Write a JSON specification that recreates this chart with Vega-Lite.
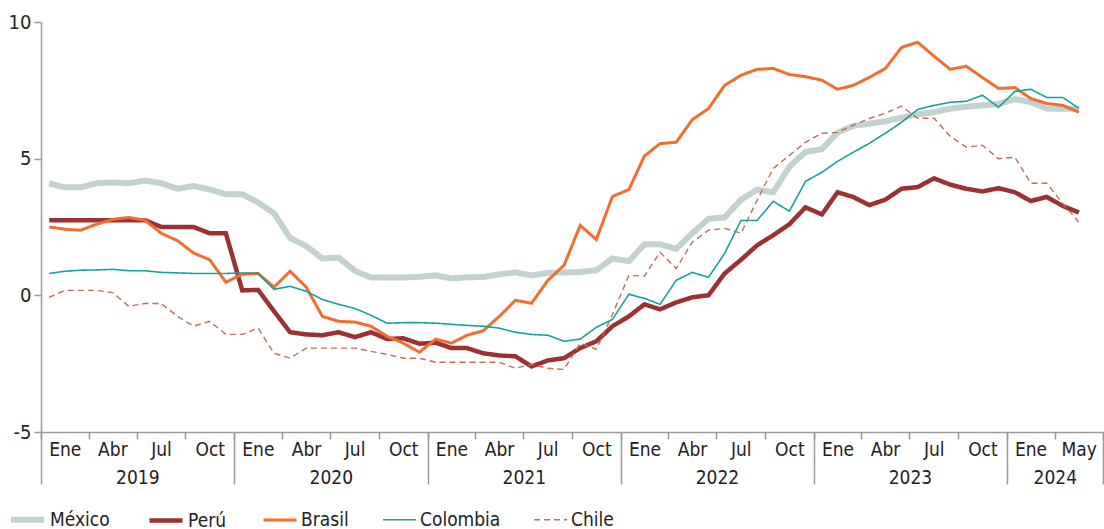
{
  "$schema": "https://vega.github.io/schema/vega-lite/v6.json",
  "width": 1062,
  "height": 410,
  "autosize": "none",
  "padding": {"left": 41, "top": 22, "right": 1, "bottom": 97},
  "config": {
    "font": "DejaVu Sans Condensed, sans-serif",
    "view": {"stroke": null},
    "axis": {
      "labelFont": "DejaVu Sans Condensed, sans-serif",
      "labelColor": "#222222",
      "labelFontSize": 19,
      "domainColor": "#9a9a9a",
      "tickColor": "#9a9a9a",
      "domainWidth": 1.5,
      "tickWidth": 1.5,
      "grid": false,
      "title": null
    },
    "legend": {
      "labelFont": "DejaVu Sans Condensed, sans-serif"
    }
  },
  "data": {
    "values": [
      {"m": "2019-01", "México": 4.10, "Perú": 2.75, "Brasil": 2.50, "Colombia": 0.80, "Chile": -0.07},
      {"m": "2019-02", "México": 3.95, "Perú": 2.75, "Brasil": 2.42, "Colombia": 0.88, "Chile": 0.18},
      {"m": "2019-03", "México": 3.95, "Perú": 2.75, "Brasil": 2.38, "Colombia": 0.92, "Chile": 0.18},
      {"m": "2019-04", "México": 4.10, "Perú": 2.75, "Brasil": 2.60, "Colombia": 0.93, "Chile": 0.18},
      {"m": "2019-05", "México": 4.13, "Perú": 2.75, "Brasil": 2.78, "Colombia": 0.95, "Chile": 0.10},
      {"m": "2019-06", "México": 4.10, "Perú": 2.75, "Brasil": 2.85, "Colombia": 0.90, "Chile": -0.40},
      {"m": "2019-07", "México": 4.20, "Perú": 2.75, "Brasil": 2.75, "Colombia": 0.90, "Chile": -0.30},
      {"m": "2019-08", "México": 4.10, "Perú": 2.50, "Brasil": 2.27, "Colombia": 0.84, "Chile": -0.30},
      {"m": "2019-09", "México": 3.90, "Perú": 2.50, "Brasil": 2.00, "Colombia": 0.82, "Chile": -0.77},
      {"m": "2019-10", "México": 4.00, "Perú": 2.50, "Brasil": 1.55, "Colombia": 0.80, "Chile": -1.13},
      {"m": "2019-11", "México": 3.87, "Perú": 2.27, "Brasil": 1.30, "Colombia": 0.80, "Chile": -0.95},
      {"m": "2019-12", "México": 3.70, "Perú": 2.27, "Brasil": 0.48, "Colombia": 0.80, "Chile": -1.43},
      {"m": "2020-01", "México": 3.70, "Perú": 0.18, "Brasil": 0.77, "Colombia": 0.82, "Chile": -1.43},
      {"m": "2020-02", "México": 3.40, "Perú": 0.20, "Brasil": 0.80, "Colombia": 0.80, "Chile": -1.20},
      {"m": "2020-03", "México": 3.00, "Perú": -0.58, "Brasil": 0.30, "Colombia": 0.22, "Chile": -2.12},
      {"m": "2020-04", "México": 2.10, "Perú": -1.35, "Brasil": 0.88, "Colombia": 0.33, "Chile": -2.30},
      {"m": "2020-05", "México": 1.80, "Perú": -1.43, "Brasil": 0.30, "Colombia": 0.15, "Chile": -1.93},
      {"m": "2020-06", "México": 1.35, "Perú": -1.46, "Brasil": -0.77, "Colombia": -0.15, "Chile": -1.93},
      {"m": "2020-07", "México": 1.38, "Perú": -1.35, "Brasil": -0.95, "Colombia": -0.33, "Chile": -1.93},
      {"m": "2020-08", "México": 0.90, "Perú": -1.53, "Brasil": -0.98, "Colombia": -0.48, "Chile": -1.93},
      {"m": "2020-09", "México": 0.65, "Perú": -1.35, "Brasil": -1.13, "Colombia": -0.73, "Chile": -2.05},
      {"m": "2020-10", "México": 0.65, "Perú": -1.60, "Brasil": -1.50, "Colombia": -1.02, "Chile": -2.16},
      {"m": "2020-11", "México": 0.65, "Perú": -1.57, "Brasil": -1.75, "Colombia": -1.00, "Chile": -2.30},
      {"m": "2020-12", "México": 0.68, "Perú": -1.77, "Brasil": -2.08, "Colombia": -1.00, "Chile": -2.30},
      {"m": "2021-01", "México": 0.73, "Perú": -1.73, "Brasil": -1.60, "Colombia": -1.02, "Chile": -2.45},
      {"m": "2021-02", "México": 0.62, "Perú": -1.93, "Brasil": -1.75, "Colombia": -1.06, "Chile": -2.45},
      {"m": "2021-03", "México": 0.66, "Perú": -1.93, "Brasil": -1.46, "Colombia": -1.10, "Chile": -2.45},
      {"m": "2021-04", "México": 0.67, "Perú": -2.12, "Brasil": -1.30, "Colombia": -1.13, "Chile": -2.45},
      {"m": "2021-05", "México": 0.77, "Perú": -2.20, "Brasil": -0.77, "Colombia": -1.20, "Chile": -2.45},
      {"m": "2021-06", "México": 0.84, "Perú": -2.23, "Brasil": -0.18, "Colombia": -1.35, "Chile": -2.67},
      {"m": "2021-07", "México": 0.73, "Perú": -2.60, "Brasil": -0.29, "Colombia": -1.43, "Chile": -2.52},
      {"m": "2021-08", "México": 0.82, "Perú": -2.38, "Brasil": 0.55, "Colombia": -1.46, "Chile": -2.67},
      {"m": "2021-09", "México": 0.84, "Perú": -2.30, "Brasil": 1.10, "Colombia": -1.68, "Chile": -2.71},
      {"m": "2021-10", "México": 0.85, "Perú": -1.93, "Brasil": 2.56, "Colombia": -1.60, "Chile": -1.75},
      {"m": "2021-11", "México": 0.92, "Perú": -1.68, "Brasil": 2.04, "Colombia": -1.17, "Chile": -1.98},
      {"m": "2021-12", "México": 1.35, "Perú": -1.13, "Brasil": 3.62, "Colombia": -0.88, "Chile": -0.70},
      {"m": "2022-01", "México": 1.25, "Perú": -0.77, "Brasil": 3.87, "Colombia": 0.04, "Chile": 0.73},
      {"m": "2022-02", "México": 1.87, "Perú": -0.33, "Brasil": 5.10, "Colombia": -0.11, "Chile": 0.70},
      {"m": "2022-03", "México": 1.87, "Perú": -0.51, "Brasil": 5.55, "Colombia": -0.33, "Chile": 1.58},
      {"m": "2022-04", "México": 1.70, "Perú": -0.26, "Brasil": 5.60, "Colombia": 0.55, "Chile": 0.98},
      {"m": "2022-05", "México": 2.27, "Perú": -0.07, "Brasil": 6.43, "Colombia": 0.84, "Chile": 1.95},
      {"m": "2022-06", "México": 2.80, "Perú": 0.00, "Brasil": 6.83, "Colombia": 0.66, "Chile": 2.38},
      {"m": "2022-07", "México": 2.85, "Perú": 0.80, "Brasil": 7.68, "Colombia": 1.53, "Chile": 2.45},
      {"m": "2022-08", "México": 3.50, "Perú": 1.30, "Brasil": 8.05, "Colombia": 2.74, "Chile": 2.27},
      {"m": "2022-09", "México": 3.87, "Perú": 1.83, "Brasil": 8.27, "Colombia": 2.74, "Chile": 3.48},
      {"m": "2022-10", "México": 3.77, "Perú": 2.20, "Brasil": 8.30, "Colombia": 3.44, "Chile": 4.64},
      {"m": "2022-11", "México": 4.70, "Perú": 2.60, "Brasil": 8.08, "Colombia": 3.08, "Chile": 5.12},
      {"m": "2022-12", "México": 5.25, "Perú": 3.22, "Brasil": 8.00, "Colombia": 4.17, "Chile": 5.60},
      {"m": "2023-01", "México": 5.35, "Perú": 2.96, "Brasil": 7.87, "Colombia": 4.50, "Chile": 5.93},
      {"m": "2023-02", "México": 5.95, "Perú": 3.77, "Brasil": 7.54, "Colombia": 4.90, "Chile": 5.96},
      {"m": "2023-03", "México": 6.20, "Perú": 3.60, "Brasil": 7.68, "Colombia": 5.23, "Chile": 6.22},
      {"m": "2023-04", "México": 6.28, "Perú": 3.30, "Brasil": 7.97, "Colombia": 5.56, "Chile": 6.47},
      {"m": "2023-05", "México": 6.37, "Perú": 3.50, "Brasil": 8.30, "Colombia": 5.93, "Chile": 6.66},
      {"m": "2023-06", "México": 6.50, "Perú": 3.90, "Brasil": 9.07, "Colombia": 6.33, "Chile": 6.92},
      {"m": "2023-07", "México": 6.62, "Perú": 3.96, "Brasil": 9.26, "Colombia": 6.80, "Chile": 6.48},
      {"m": "2023-08", "México": 6.70, "Perú": 4.28, "Brasil": 8.75, "Colombia": 6.95, "Chile": 6.48},
      {"m": "2023-09", "México": 6.83, "Perú": 4.05, "Brasil": 8.27, "Colombia": 7.06, "Chile": 5.82},
      {"m": "2023-10", "México": 6.90, "Perú": 3.90, "Brasil": 8.38, "Colombia": 7.10, "Chile": 5.42},
      {"m": "2023-11", "México": 6.95, "Perú": 3.80, "Brasil": 7.97, "Colombia": 7.32, "Chile": 5.49},
      {"m": "2023-12", "México": 7.00, "Perú": 3.92, "Brasil": 7.57, "Colombia": 6.88, "Chile": 5.00},
      {"m": "2024-01", "México": 7.18, "Perú": 3.77, "Brasil": 7.60, "Colombia": 7.46, "Chile": 5.05},
      {"m": "2024-02", "México": 7.07, "Perú": 3.45, "Brasil": 7.20, "Colombia": 7.54, "Chile": 4.10},
      {"m": "2024-03", "México": 6.83, "Perú": 3.60, "Brasil": 7.02, "Colombia": 7.24, "Chile": 4.10},
      {"m": "2024-04", "México": 6.83, "Perú": 3.27, "Brasil": 6.95, "Colombia": 7.24, "Chile": 3.36},
      {"m": "2024-05", "México": 6.83, "Perú": 3.03, "Brasil": 6.70, "Colombia": 6.84, "Chile": 2.67}
    ]
  },
  "transform": [
    {"fold": ["México", "Perú", "Brasil", "Colombia", "Chile"], "as": ["pais", "valor"]}
  ],
  "layer": [
    {
      "mark": {"type": "line", "strokeJoin": "miter", "strokeCap": "butt"},
      "encoding": {
        "x": {
          "field": "m", "type": "temporal", "timeUnit": "utcyearmonth", "bandPosition": 0.5,
          "scale": {"type": "utc", "nice": false, "domain": [{"year": 2019, "month": 1, "date": 1, "utc": true}, {"year": 2024, "month": 7, "date": 1, "utc": true}]},
          "axis": {"orient": "bottom", "tickCount": {"interval": "month", "step": 3}, "tickSize": 7, "labels": false, "domain": true}
        },
        "y": {
          "field": "valor", "type": "quantitative",
          "scale": {"domain": [-5, 10], "nice": false, "zero": false},
          "axis": {"values": [-5, 0, 5, 10], "tickSize": 7, "labelPadding": 3, "labelFontSize": 20, "labelExpr": "'' + datum.value"}
        },
        "color": {
          "field": "pais", "type": "nominal",
          "scale": {"domain": ["México", "Perú", "Brasil", "Colombia", "Chile"], "range": ["#c3d2d1", "#9b3134", "#f26d2e", "#18a09c", "#c46c52"]},
          "legend": {
            "orient": "none", "legendX": -33, "legendY": 478, "direction": "horizontal", "title": null,
            "symbolType": "stroke", "symbolSize": 1089, "labelFontSize": 19, "labelColor": "#222222",
            "labelOffset": 3, "columnPadding": 30
          }
        },
        "strokeWidth": {
          "field": "pais", "type": "nominal",
          "scale": {"type": "ordinal", "domain": ["México", "Perú", "Brasil", "Colombia", "Chile"], "range": [6, 4.5, 3, 1.6, 1.4]}
        },
        "strokeDash": {
          "field": "pais", "type": "nominal",
          "scale": {"domain": ["México", "Perú", "Brasil", "Colombia", "Chile"], "range": [[1, 0], [1, 0], [1, 0], [1, 0], [6, 4]]}
        }
      }
    },
    {
      "mark": {"type": "line", "opacity": 0},
      "encoding": {
        "x": {
          "field": "m", "type": "temporal", "timeUnit": "utcyearmonth", "bandPosition": 0.5,
          "scale": {"type": "utc", "nice": false, "domain": [{"year": 2019, "month": 1, "date": 1, "utc": true}, {"year": 2024, "month": 7, "date": 1, "utc": true}]},
          "axis": {
            "orient": "bottom", "domain": false, "labels": false, "tickSize": 52,
            "values": [
              {"year": 2019, "month": 1, "date": 1, "utc": true},
              {"year": 2020, "month": 1, "date": 1, "utc": true},
              {"year": 2021, "month": 1, "date": 1, "utc": true},
              {"year": 2022, "month": 1, "date": 1, "utc": true},
              {"year": 2023, "month": 1, "date": 1, "utc": true},
              {"year": 2024, "month": 1, "date": 1, "utc": true},
              {"year": 2024, "month": 7, "date": 1, "utc": true}
            ]
          }
        },
        "y": {"field": "valor", "type": "quantitative"}
      }
    },
    {
      "mark": {"type": "line", "opacity": 0},
      "encoding": {
        "x": {
          "field": "m", "type": "temporal", "timeUnit": "utcyearmonth", "bandPosition": 0.5,
          "scale": {"type": "utc", "nice": false, "domain": [{"year": 2019, "month": 1, "date": 1, "utc": true}, {"year": 2024, "month": 7, "date": 1, "utc": true}]},
          "axis": {
            "orient": "bottom", "domain": false, "ticks": false, "labelPadding": 8, "labelOverlap": false, "labelFlush": false, "labelBound": false, "labelAngle": 0,
            "labelExpr": "utcmonth(datum.value) < 3 ? 'Ene' : utcyear(datum.value) == 2024 ? 'May' : utcmonth(datum.value) < 6 ? 'Abr' : utcmonth(datum.value) < 9 ? 'Jul' : 'Oct'",
            "values": [
              {"year": 2019, "month": 2, "date": 15, "utc": true},
              {"year": 2019, "month": 5, "date": 16, "utc": true},
              {"year": 2019, "month": 8, "date": 16, "utc": true},
              {"year": 2019, "month": 11, "date": 16, "utc": true},
              {"year": 2020, "month": 2, "date": 15, "utc": true},
              {"year": 2020, "month": 5, "date": 16, "utc": true},
              {"year": 2020, "month": 8, "date": 16, "utc": true},
              {"year": 2020, "month": 11, "date": 16, "utc": true},
              {"year": 2021, "month": 2, "date": 15, "utc": true},
              {"year": 2021, "month": 5, "date": 16, "utc": true},
              {"year": 2021, "month": 8, "date": 16, "utc": true},
              {"year": 2021, "month": 11, "date": 16, "utc": true},
              {"year": 2022, "month": 2, "date": 15, "utc": true},
              {"year": 2022, "month": 5, "date": 16, "utc": true},
              {"year": 2022, "month": 8, "date": 16, "utc": true},
              {"year": 2022, "month": 11, "date": 16, "utc": true},
              {"year": 2023, "month": 2, "date": 15, "utc": true},
              {"year": 2023, "month": 5, "date": 16, "utc": true},
              {"year": 2023, "month": 8, "date": 16, "utc": true},
              {"year": 2023, "month": 11, "date": 16, "utc": true},
              {"year": 2024, "month": 2, "date": 15, "utc": true},
              {"year": 2024, "month": 5, "date": 16, "utc": true}
            ]
          }
        },
        "y": {"field": "valor", "type": "quantitative"}
      }
    },
    {
      "mark": {"type": "line", "opacity": 0},
      "encoding": {
        "x": {
          "field": "m", "type": "temporal", "timeUnit": "utcyearmonth", "bandPosition": 0.5,
          "scale": {"type": "utc", "nice": false, "domain": [{"year": 2019, "month": 1, "date": 1, "utc": true}, {"year": 2024, "month": 7, "date": 1, "utc": true}]},
          "axis": {
            "orient": "bottom", "domain": false, "ticks": false, "labelPadding": 36, "labelOverlap": false, "labelFlush": false, "labelBound": false, "labelAngle": 0,
            "labelExpr": "'' + utcyear(datum.value)",
            "values": [
              {"year": 2019, "month": 7, "date": 2, "utc": true},
              {"year": 2020, "month": 7, "date": 2, "utc": true},
              {"year": 2021, "month": 7, "date": 2, "utc": true},
              {"year": 2022, "month": 7, "date": 2, "utc": true},
              {"year": 2023, "month": 7, "date": 2, "utc": true},
              {"year": 2024, "month": 4, "date": 1, "utc": true}
            ]
          }
        },
        "y": {"field": "valor", "type": "quantitative"}
      }
    }
  ],
  "resolve": {"axis": {"x": "independent", "y": "shared"}}
}
